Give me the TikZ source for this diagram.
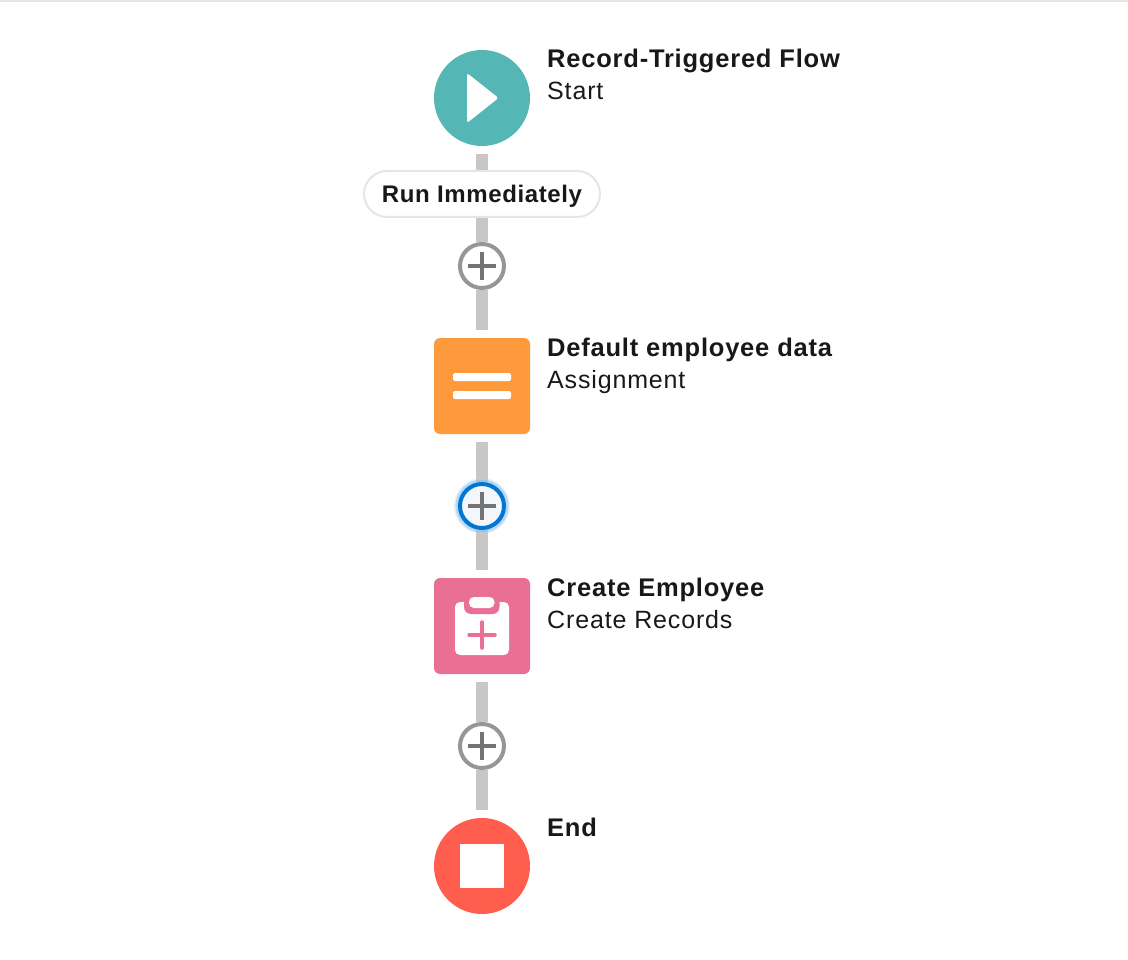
\documentclass[tikz,border=0pt]{standalone}
\usepackage{fontspec}
\setmainfont{Liberation Sans}
\newfontfamily\titlefont[LetterSpace=3.1]{Liberation Sans}
\newfontfamily\subfont[LetterSpace=3.4]{Liberation Sans}
\newfontfamily\pillfont[LetterSpace=2.6]{Liberation Sans}
\usetikzlibrary{backgrounds}
\definecolor{teal0}{HTML}{54B7B5}
\definecolor{orange0}{HTML}{FF9A3C}
\definecolor{pink0}{HTML}{E96F95}
\definecolor{red0}{HTML}{FF5D4D}
\definecolor{conn}{HTML}{C9C7C5}
\definecolor{ringgray}{HTML}{969696}
\definecolor{plusgray}{HTML}{747474}
\definecolor{ink}{HTML}{181818}
\definecolor{pillline}{HTML}{E5E5E5}
\definecolor{focusblue}{HTML}{0176D3}
\definecolor{focusfill}{HTML}{F3F6FB}
\tikzset{
  x=1pt,y=-1pt,
  roundnode/.style={circle,minimum size=96pt,inner sep=0pt,outer sep=0pt,fill=#1},
  squarenode/.style={rectangle,minimum size=96pt,inner sep=0pt,outer sep=0pt,rounded corners=6pt,fill=#1},
  plusnode/.style={circle,minimum size=44pt,inner sep=0pt,outer sep=2pt,line width=4pt,draw=ringgray,fill=white},
  focusnode/.style={plusnode,draw=focusblue,fill=focusfill},
  pillnode/.style={rectangle,rounded corners=23pt,minimum width=236pt,minimum height=46pt,inner sep=0pt,outer sep=1pt,line width=2pt,draw=pillline,fill=white},
  pilltext/.style={anchor=base,inner sep=0pt,text=ink,font=\fontsize{24}{28}\pillfont\bfseries},
  titletext/.style={anchor=base west,inner sep=0pt,text=ink,font=\fontsize{25.5}{30}\titlefont\bfseries},
  subtext/.style={anchor=base west,inner sep=0pt,text=ink,font=\fontsize{25}{30}\subfont},
  connector/.style={line width=12pt,draw=conn},
  gap/.style={shorten >=8pt},
  gapstart/.style={shorten <=8pt},
  plusmark/.style={line width=3.2pt,draw=plusgray},
  whiteicon/.style={fill=white,draw=none},
}
\begin{document}
\begin{tikzpicture}
\useasboundingbox (0,0) rectangle (1128,960);
\fill[pillline] (0,0) rectangle (1128,2);

\node[roundnode=teal0] (start) at (482,98) {};
\node[pillnode] (pill) at (482,194) {};
\node[pilltext] (pilllabel) at (482,203) {Run Immediately};
\node[plusnode] (plusa) at (482,266) {};
\node[squarenode=orange0] (assign) at (482,386) {};
\fill[focusblue!30,opacity=.35] (482,506) circle (28);
\fill[focusblue!50,opacity=.45] (482,506) circle (26.5);
\node[focusnode] (plusb) at (482,506) {};
\node[squarenode=pink0] (create) at (482,626) {};
\node[plusnode] (plusc) at (482,746) {};
\node[roundnode=red0] (stop) at (482,866) {};

\begin{scope}[on background layer]
\draw[connector,gapstart] (start.south) -- (pill.north);
\draw[connector] (pill.south) -- (plusa.north);
\draw[connector,gap] (plusa.south) -- (assign.north);
\draw[connector,gapstart] (assign.south) -- (plusb.north);
\draw[connector,gap] (plusb.south) -- (create.north);
\draw[connector,gapstart] (create.south) -- (plusc.north);
\draw[connector,gap] (plusc.south) -- (stop.north);
\end{scope}

% plus marks
\draw[plusmark] (468,266) -- (496,266) (482,252) -- (482,280);
\draw[plusmark] (468,506) -- (496,506) (482,492) -- (482,520);
\draw[plusmark] (468,746) -- (496,746) (482,732) -- (482,760);

% play icon
\fill[whiteicon,rounded corners=2.5pt] (467,73) -- (498.5,98) -- (467,123) -- cycle;
% assignment icon
\fill[whiteicon,rounded corners=2pt] (453,373) rectangle (511,381);
\fill[whiteicon,rounded corners=2pt] (453,391) rectangle (511,399);
% create records icon
\fill[whiteicon,rounded corners=5pt] (455,602) rectangle (509,655);
\fill[pink0,rounded corners=7pt] (464,590) rectangle (499.5,614);
\fill[whiteicon,rounded corners=5pt] (469,597) rectangle (494.5,608);
\draw[line width=3.5pt,draw=pink0,line cap=round] (469,635) -- (495,635) (482,622) -- (482,648);
% stop icon
\fill[whiteicon] (460,844) rectangle (504,888);

\node[titletext] (t1) at (547,68) {Record-Triggered Flow};
\node[subtext] (s1) at (547,100) {Start};
\node[titletext] (t2) at (547,356) {Default employee data};
\node[subtext] (s2) at (547,388) {Assignment};
\node[titletext] (t3) at (547,596) {Create Employee};
\node[subtext] (s3) at (547,628) {Create Records};
\node[titletext] (t4) at (547,836) {End};
\end{tikzpicture}
\end{document}
